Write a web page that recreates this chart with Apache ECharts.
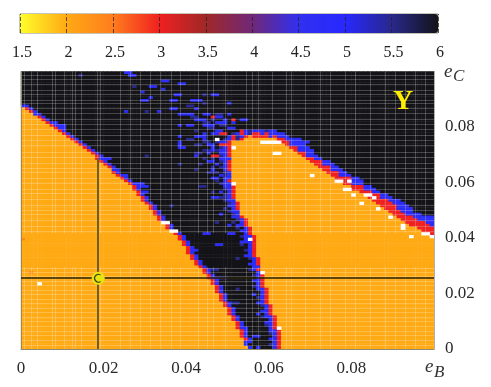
<!DOCTYPE html>
<html>
<head>
<meta charset="utf-8">
<style>html,body{margin:0;padding:0;background:#fff}#c{width:491px;height:387px}</style>
<script src="https://cdn.jsdelivr.net/npm/echarts@6/dist/echarts.min.js"></script>
</head>
<body>
<div id="c"></div>
<script>
// Value of each cell code (colour-bar units); W cells are off the scale and draw white
const cellValues = {K:6, O:2, T:2.4, R:3, B:4.75, D:5.5, W:0};
const colorbarTicks = [1.5, 6];
const colorStops = ['#ffff2c','#ffaa14','#ff7d1e','#f02020','#a02828','#702878','#3030f0','#2828ff','#28288c','#141418'];
const xTicks = [0, 0.1];
const yTicks = [0, 0.1];
// Run-length cell rows from the top of the plot; @n jumps to column n, the rest is K
const cellRows = [
"","","","","","","","","","","","",
"B2",
"O1 R1 B1",
"O2 R1 B1",
"O3 B2",
"O4 R1 B1",
"O5 R1 B1",
"O6 R1 B2",
"O7 R1 B3",
"O8 R1 B2",
"O9 R1 B1 @54 B1 D1 B3 D1 B2",
"O10 R1 B1 @51 D1 B1 R1 B1 D1 R2 B1 R1 B4",
"O11 R1 B1 @50 B1 R1 D1 B1 R1 T1 R4 B1 R1 B3",
"O12 R1 B1 @49 D1 B1 R1 D1 R1 O8 R2 B4",
"O13 R1 B1 @47 D1 B2 R1 O12 R2 B5",
"O14 R1 B1 @48 R1 B1 R1 O13 R1 B4",
"O15 R1 B1 @46 B1 @48 D1 B1 R1 O14 R2 B3",
"O16 R1 B1 @47 D1 B2 R1 O15 R1 B4",
"O17 R1 B1 @45 B1 @48 B2 R1 O16 R2 B2",
"O18 R1 B1 @47 R1 D1 B1 R1 O17 R1 B3",
"O18 R1 B3 @46 D1 @48 B3 O18 R2 B2",
"O19 R1 B1 @48 D1 B1 R1 O19 R3 B2",
"O20 R1 B1 @47 B1 @49 B1 R1 O20 R2 B3",
"O21 R1 B1 @46 D1 @48 D1 B1 R1 O21 R3 B2",
"O22 B2 @49 B1 R1 O22 R2 B3",
"O22 R1 B1 @47 D1 @49 D1 B1 O23 R3 B2",
"O23 R1 B2 @48 B1 D1 B1 O24 R2 B3",
"O24 R1 B1 @49 B2 O25 R4 B2",
"O25 R1 B1 @47 D1 @49 B1 R1 O26 R3 B3",
"O26 R1 B1 @48 D1 B2 O27 R2 B3",
"O27 R1 B3 @49 B2 R1 O28 R3 B2",
"O27 R1 B1 @49 D1 B1 R1 O28 R3 B3",
"O28 R1 B2 @48 B1 @50 B1 R1 O30 R3 B2",
"O28 R1 B1 @49 D1 B1 R1 O31 R4 B2",
"O29 R1 B1 @50 B1 R1 O32 R3 B3",
"O29 R1 B1 @49 D1 B2 O33 R4 B3",
"O30 R1 B1 @50 D1 B1 R1 O33 R4 B3",
"O31 R1 B1 @50 B2 R1 O34 R4 B3",
"O31 R1 B1 @49 D1 @51 B1 R1 O35 R3 B4",
"O32 R1 B1 @50 D1 B2 O36 R3 B3",
"O32 R1 B1 @51 D1 B1 O37 R3 B4",
"O33 R1 B1 @51 B2 R1 O37 R4 B5",
"O33 R1 B1 @52 D1 B1 R1 O37 R4 B4",
"O34 R1 B1 @51 D1 @53 B1 R1 O38 R5 B2",
"O35 R1 B1 @52 B2 R1 O39 R5 B1",
"O35 R1 B1 @52 D1 @54 B1 R1 O40 R4",
"O36 R1 B1 @53 B2 R1 O41 R4",
"O37 R1 B1 @54 B1 R1 O43 R1",
"O38 R1 B1 @53 D1 B2 R1 O44",
"O38 R1 B1 @54 B2 R1 O43",
"O39 R1 B1 @54 D1 B1 R1 O43",
"O39 R1 B1 @53 D1 @55 B1 R1 O43",
"O40 R1 B1 @55 B1 R1 O43",
"O40 R1 B1 @54 D1 B1 R1 O43",
"O40 R1 B1 @55 B1 R1 O43",
"O41 R1 B1 @54 B2 R1 O43",
"O41 R1 B1 @55 D1 B1 R1 O42",
"O42 R1 B1 @56 B1 R1 O42",
"O42 R1 B1 @55 B2 R1 O42",
"O43 R1 B1 @56 B2 O42",
"O44 R1 B1 @55 D1 B1 R1 O42",
"O44 R1 B1 @57 B1 R1 O41",
"O45 R1 B1 @56 D1 B1 R1 O41",
"O45 R1 B2 @57 B1 R1 O41",
"O46 R1 B1 @56 B2 R1 O41",
"O46 R1 B1 @57 B1 R1 O41",
"O47 R1 B1 @56 D1 B1 R1 O41",
"O47 R1 B1 @57 B2 R1 O40",
"O47 R1 B1 @58 B1 R1 O40",
"O48 R1 B1 @56 B1 @58 B1 R1 O40",
"O48 R1 B1 @57 D1 B1 R1 O40",
"O48 R1 B1 @58 B1 R1 O40",
"O49 R1 B1 @57 B2 R1 O40",
"O49 R1 B1 @58 D1 B1 R1 O39",
"O50 R1 B1 @59 B1 R1 O39",
"O50 R1 B1 @58 B2 R1 O39",
"O50 R1 B1 @59 B1 R1 O39",
"O51 R1 B1 @58 D1 B2 R1 O38",
"O51 R1 B1 @60 B1 R1 O38",
"O52 R1 B1 @59 B2 R1 O38",
"O52 R1 B1 @59 D1 B1 R1 O38",
"O52 R1 B1 @60 B1 R1 O38",
"O53 R1 B1 @60 B2 R1 O37",
"O53 R1 B1 @60 D1 B1 R1 O37",
"O53 R1 B1 @61 B1 R1 O37",
"O54 R1 B1 @60 B2 R1 O37",
"O54 B2 @61 B1 R1 O37",
"O54 B1 @60 D1 B1 R1 O37",
"O55 B1 @61 B1 R1 O37"
];
// Isolated cells laid over the rows: [row, column, length, code]
const speckles = [
[0,25,2,'B'],[1,26,2,'B'],[1,14,1,'D'],[5,27,1,'D'],[5,31,2,'B'],[3,34,2,'B'],[7,29,1,'B'],[6,34,1,'B'],
[4,38,2,'B'],[8,37,2,'B'],[10,36,2,'B'],[10,29,2,'B'],[9,31,1,'B'],[14,25,1,'B'],[14,30,1,'D'],[13,36,2,'B'],
[14,33,1,'B'],[15,38,2,'B'],[19,38,1,'B'],[23,38,1,'B'],[27,38,2,'B'],[33,38,1,'B'],[40,28,2,'B'],[41,28,2,'B'],
[30,30,1,'D'],[8,46,2,'B'],[8,44,1,'D'],[10,41,3,'B'],[12,40,2,'D'],[13,42,1,'B'],[11,44,1,'D'],
[15,39,3,'B'],[16,41,2,'D'],[15,44,2,'B'],[15,47,2,'D'],[15,50,1,'B'],[11,50,1,'B'],[16,46,1,'R'],[17,53,2,'B'],[17,42,3,'B'],
[16,47,2,'B'],[17,46,1,'D'],[17,49,1,'B'],[18,44,2,'D'],[18,47,3,'B'],[18,51,1,'B'],[19,40,2,'B'],[19,44,3,'B'],[19,48,2,'D'],[17,51,1,'R'],[20,50,2,'B'],[20,45,2,'D'],
[21,42,1,'D'],[21,53,1,'R'],[21,47,2,'B'],[22,44,1,'B'],[22,46,2,'B'],[22,48,2,'R'],[23,42,3,'B'],[24,40,2,'D'],[24,44,1,'B'],
[25,44,2,'D'],[25,38,1,'B'],[26,38,1,'B'],[26,42,2,'D'],[26,45,2,'B'],[26,49,1,'R'],[28,44,2,'D'],[28,46,1,'B'],[29,42,2,'D'],
[30,42,1,'B'],[30,46,1,'R'],[31,44,1,'D'],[32,45,2,'B'],[33,38,1,'D'],[33,43,1,'D'],[35,42,1,'D'],[36,45,2,'D'],[35,46,1,'B'],
[38,46,2,'B'],[41,43,2,'D'],[43,46,1,'D'],[31,19,2,'B'],
[58,44,2,'B'],[58,50,2,'B'],[62,47,2,'B'],[64,42,1,'B'],[61,53,3,'B'],[55,50,1,'B'],[51,48,1,'B'],[45,46,3,'B'],[45,48,2,'D'],[48,36,1,'D'],[54,47,1,'D'],
[71,46,2,'D'],[74,48,2,'D'],[83,51,2,'D'],[87,57,1,'B'],[95,56,2,'B'],[92,53,2,'B'],[99,57,1,'B'],[78,52,1,'D'],[67,52,1,'D'],
[60,0,1,'T'],[72,2,1,'T'],
[54,34,2,'W'],[57,36,2,'W'],[76,4,1,'W'],[27,51,1,'W'],[24,47,1,'W'],[25,58,3,'W'],[25,61,2,'W'],[29,61,2,'W'],
[37,70,1,'W'],[40,51,1,'W'],[39,76,2,'W'],[39,79,1,'W'],[42,78,2,'W'],[44,80,1,'W'],[44,83,2,'W'],[45,85,1,'W'],
[47,82,1,'W'],[49,86,1,'W'],[52,89,1,'W'],[55,92,1,'W'],[56,92,1,'W'],[59,94,1,'W'],[58,97,2,'W'],[59,99,1,'W'],
[60,55,1,'W'],[72,58,1,'W'],[92,62,1,'W']
];
// Faint lattice lines seen over the plot, in axis units
const textureX = [0.0007,0.0024,0.0039,0.0075,0.0082,0.0104,0.0123,0.0131,0.0145,0.0184,0.0191,0.0240,0.0264,0.0288,0.0312,0.0337,0.0363,0.0385,0.0429,0.0451,0.0465,0.0494,0.0545,0.0559,0.0574,0.0608,0.0642,0.0654,0.0688,0.0724,0.0748,0.0785,0.0809,0.0845,0.0881,0.0906,0.0930,0.0954,0.0978];
const textureYUpper = [0.0986,0.0971,0.0953,0.0932,0.0917,0.0896,0.0885,0.0867,0.0849,0.0827,0.0809,0.0791,0.0770,0.0752,0.0734,0.0709,0.0691,0.0669,0.0651,0.0637,0.0615,0.0597,0.0576,0.0561,0.0540,0.0518,0.0500,0.0486,0.0464,0.0442,0.0424];
const textureYLower = [0.0291,0.0277,0.0263,0.0245,0.0230,0.0212,0.0198,0.0180,0.0165,0.0147,0.0133,0.0115,0.0101,0.0083,0.0065,0.0050,0.0032,0.0014];
const bandEdges = [0.0295, 0.0417];
const crossPoint = [0.0187, 0.0255];
const crossTop = 0.0687;

const COLS = 100, ROWS = 100;
const grid = [];
cellRows.forEach(function (s) {
  const row = new Array(COLS).fill('K');
  let c = 0;
  s.split(' ').filter(Boolean).forEach(function (t) {
    const n = parseInt(t.slice(1), 10);
    if (t[0] === '@') { c = n; return; }
    for (let i = 0; i < n && c < COLS; i++) row[c++] = t[0];
  });
  grid.push(row);
});
speckles.forEach(function (s) {
  for (let i = 0; i < s[2]; i++) if (s[1] + i < COLS) grid[s[0]][s[1] + i] = s[3];
});
const cells = [], whiteCells = [];
grid.forEach(function (row, r) {
  row.forEach(function (code, c) {
    if (code === 'W') whiteCells.push([c, ROWS - 1 - r, cellValues[code]]);
    else cells.push([c, ROWS - 1 - r, cellValues[code]]);
  });
});
const idx = function (n) { return Array.from({length: n}, function (_, i) { return i; }); };

const textureLines = [];
textureX.forEach(function (x) {
  textureLines.push([{coord: [x, 0.1]}, {coord: [x, bandEdges[1]]}]);
  textureLines.push([{coord: [x, bandEdges[0]]}, {coord: [x, 0]}]);
});
textureYUpper.concat(textureYLower).forEach(function (y) {
  textureLines.push([{coord: [0, y]}, {coord: [0.1, y]}]);
});

const serif = '"Liberation Serif", serif';
const chart = echarts.init(document.getElementById('c'), null, {renderer: 'canvas'});
chart.setOption({
  animation: false,
  backgroundColor: '#fff',
  grid: [
    {left: 21, top: 71.5, width: 413, height: 277.5, containLabel: false},
    {left: 20, top: 14, width: 418, height: 19, containLabel: false, show: true, borderColor: '#8a8a70', borderWidth: 1, backgroundColor: 'transparent'}
  ],
  xAxis: [
    {type: 'category', gridIndex: 0, data: idx(COLS), show: false},
    {type: 'value', gridIndex: 0, min: xTicks[0], max: xTicks[1], interval: 0.02, position: 'bottom',
      axisLine: {show: true, onZero: false, lineStyle: {color: '#8f8a70', width: 1}}, axisTick: {show: false}, splitLine: {show: false}, z: 5,
      axisLabel: {margin: 11, fontFamily: serif, fontSize: 17, color: '#2a2a2a', showMaxLabel: false, hideOverlap: false}},
    {type: 'value', gridIndex: 1, min: colorbarTicks[0], max: colorbarTicks[1], interval: 0.5, position: 'bottom', z: 10,
      axisLine: {show: false}, splitLine: {show: false},
      axisTick: {show: true, inside: true, length: 19, lineStyle: {color: 'rgba(40,30,20,0.7)', type: 'dashed', width: 1}},
      axisLabel: {margin: 12, fontFamily: serif, fontSize: 16, color: '#222', padding: [0, 0, 0, 4]}}
  ],
  yAxis: [
    {type: 'category', gridIndex: 0, data: idx(ROWS), show: false},
    {type: 'value', gridIndex: 0, min: yTicks[0], max: yTicks[1], interval: 0.02, position: 'right',
      axisLine: {show: true, onZero: false, lineStyle: {color: '#b0b0b0', width: 1}}, axisTick: {show: false}, splitLine: {show: false}, z: 5,
      axisLabel: {margin: 11, fontFamily: serif, fontSize: 17, color: '#2a2a2a', showMaxLabel: false, align: 'left'}},
    {type: 'value', gridIndex: 1, show: false, min: 0, max: 1}
  ],
  visualMap: {
    type: 'continuous', min: colorbarTicks[0], max: colorbarTicks[1], seriesIndex: 0, dimension: 2,
    orient: 'horizontal', left: 20, top: 14, itemWidth: 19, itemHeight: 418, text: null, calculable: false,
    showLabel: false, realtime: false, padding: 0, z: 1,
    handleSize: 0, indicatorSize: 0,
    inRange: {color: colorStops}
  },
  graphic: [
    {type: 'text', left: 393, top: 88, z: 20, style: {text: 'Y', font: 'bold 28px "Liberation Serif"', fill: '#ffee00'}},
    {type: 'text', left: 444, top: 62, style: {text: 'e', font: 'italic 19px "Liberation Serif"', fill: '#333'}},
    {type: 'text', left: 453, top: 68, style: {text: 'C', font: 'italic 17px "Liberation Serif"', fill: '#333'}},
    {type: 'text', left: 425, top: 357, style: {text: 'e', font: 'italic 19px "Liberation Serif"', fill: '#333'}},
    {type: 'text', left: 434, top: 364, style: {text: 'B', font: 'italic 17px "Liberation Serif"', fill: '#333'}}
  ],
  series: [
    {type: 'heatmap', xAxisIndex: 0, yAxisIndex: 0, data: cells, progressive: 0, silent: true, z: 2},
    {type: 'heatmap', xAxisIndex: 0, yAxisIndex: 0, data: whiteCells, progressive: 0, silent: true, z: 2,
      itemStyle: {color: '#ffffff'}},
    {type: 'line', xAxisIndex: 1, yAxisIndex: 1, data: [], silent: true, z: 3,
      markLine: {silent: true, symbol: ['none', 'none'], animation: false, label: {show: false},
        lineStyle: {color: 'rgba(255,255,255,0.22)', width: 1, type: 'solid'}, emphasis: {disabled: true}, data: textureLines}},
    {type: 'line', xAxisIndex: 1, yAxisIndex: 1, data: [], silent: true, z: 4,
      markLine: {silent: true, symbol: ['none', 'none'], animation: false, label: {show: false}, emphasis: {disabled: true},
        data: [
          [{coord: [0, 0.1], lineStyle: {color: '#8f8a70', width: 1, type: 'solid'}}, {coord: [0, 0]}],
          [{coord: [crossPoint[0], crossTop], lineStyle: {color: '#6f5f20', width: 2, type: 'solid'}}, {coord: [crossPoint[0], 0]}],
          [{coord: [0, crossPoint[1]], lineStyle: {color: '#2a2206', width: 1.5, type: 'solid'}}, {coord: [0.1, crossPoint[1]]}]
        ]}},
    {type: 'scatter', xAxisIndex: 1, yAxisIndex: 1, data: [crossPoint], symbol: 'circle', symbolSize: 13, silent: true, z: 5,
      itemStyle: {color: '#e8e410', opacity: 1}},
    {type: 'scatter', xAxisIndex: 1, yAxisIndex: 1, data: [crossPoint], silent: true, z: 6,
      symbol: 'path://M15 3 A8 8 0 1 0 15 17 L15 15 A6 6 0 1 1 15 5 Z', symbolSize: 9, symbolKeepAspect: true, symbolOffset: [-1, 0],
      itemStyle: {color: '#1a1a10'}}
  ]
});
</script>
</body>
</html>
